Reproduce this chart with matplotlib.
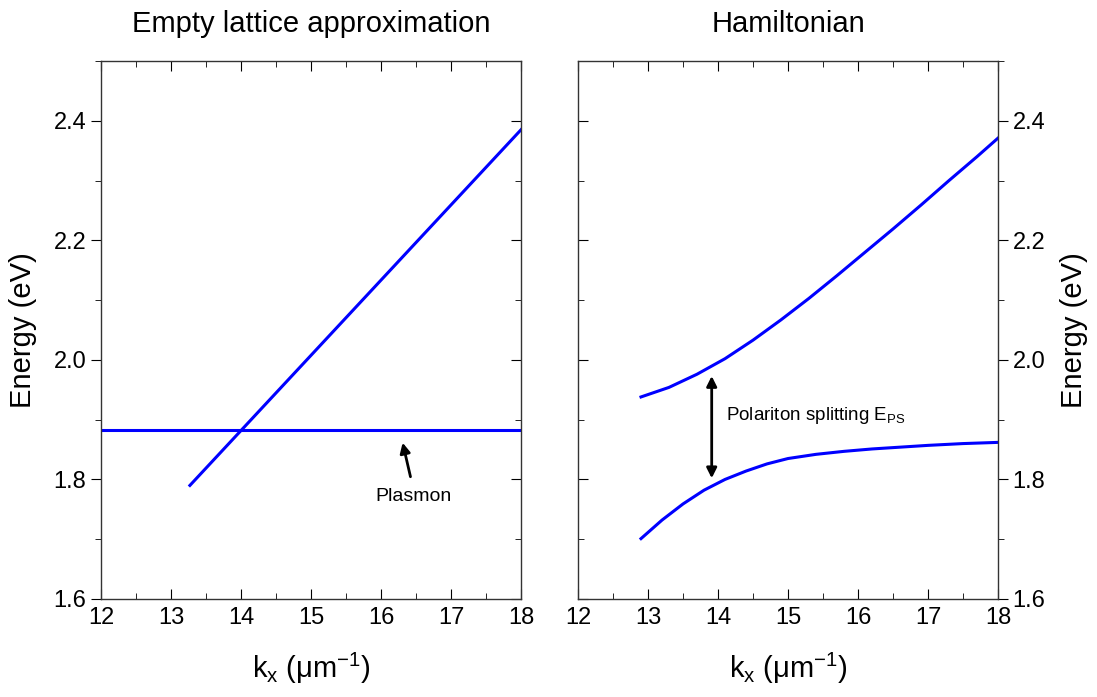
import matplotlib.pyplot as plt
from matplotlib.ticker import MultipleLocator

plt.rcParams['font.family'] = ['Liberation Sans', 'DejaVu Sans']
plt.rcParams['mathtext.fontset'] = 'custom'
plt.rcParams['mathtext.rm'] = 'Liberation Sans'
plt.rcParams['mathtext.it'] = 'Liberation Sans:italic'

# Empty lattice approximation (left panel)
photon_k = [13.27, 18.0]
photon_E = [1.790, 2.385]
plasmon_k = [12.0, 18.0]
plasmon_E = [1.882, 1.882]

# Hamiltonian (right panel)
upper_k = [12.9, 13.3, 13.7, 14.1, 14.5, 14.9, 15.3, 15.7, 16.1, 16.5,
           16.9, 17.3, 17.7, 18.0]
upper_E = [1.938, 1.954, 1.976, 2.002, 2.033, 2.067, 2.103, 2.141, 2.180,
           2.219, 2.259, 2.300, 2.340, 2.371]
lower_k = [12.9, 13.2, 13.5, 13.8, 14.1, 14.4, 14.7, 15.0, 15.4, 15.8,
           16.2, 16.6, 17.0, 17.5, 18.0]
lower_E = [1.701, 1.732, 1.759, 1.782, 1.800, 1.814, 1.826, 1.835, 1.842,
           1.847, 1.851, 1.854, 1.857, 1.860, 1.862]

blue = '#0000ff'
fig = plt.figure(figsize=(10.97, 6.97), dpi=100)
ax1 = fig.add_axes([101 / 1097, 98 / 697, 420 / 1097, 538 / 697])
ax2 = fig.add_axes([578 / 1097, 98 / 697, 420 / 1097, 538 / 697])

ax1.plot(photon_k, photon_E, color=blue, lw=2.2)
ax1.plot(plasmon_k, plasmon_E, color=blue, lw=2.2)
ax2.plot(upper_k, upper_E, color=blue, lw=2.2)
ax2.plot(lower_k, lower_E, color=blue, lw=2.2)

for ax in (ax1, ax2):
    ax.set_xlim(12, 18)
    ax.set_ylim(1.6, 2.5)
    ax.xaxis.set_major_locator(MultipleLocator(1))
    ax.xaxis.set_minor_locator(MultipleLocator(0.5))
    ax.yaxis.set_major_locator(MultipleLocator(0.2))
    ax.yaxis.set_minor_locator(MultipleLocator(0.1))
    ax.yaxis.set_major_formatter(plt.FormatStrFormatter('%.1f'))
    ax.tick_params(axis='x', which='both', direction='in', top=True, bottom=True,
                   labelsize=17, pad=6)
    ax.tick_params(axis='x', which='major', length=7)
    ax.tick_params(axis='x', which='minor', length=4)
    for s in ax.spines.values():
        s.set_color('#333333')
        s.set_linewidth(1.0)
    ax.set_xlabel(r'k$_\mathregular{x}$ ($\mathregular{\mu}$m$^\mathregular{-1}$)', fontsize=21)
    ax.xaxis.set_label_coords(0.5, -0.097)

# left panel: outward ticks on the left, inward on the right
ax1.tick_params(axis='y', which='both', direction='out', left=True, right=False, labelsize=17)
ax1.tick_params(axis='y', which='major', length=7)
ax1.tick_params(axis='y', which='minor', length=4)
sec1 = ax1.secondary_yaxis('right')
sec1.yaxis.set_major_locator(MultipleLocator(0.2))
sec1.yaxis.set_minor_locator(MultipleLocator(0.1))
sec1.tick_params(which='both', direction='in', labelright=False)
sec1.tick_params(which='major', length=7)
sec1.tick_params(which='minor', length=4)
sec1.spines['right'].set_visible(False)

# right panel: labels on the right, outward; inward ticks on the left
ax2.yaxis.tick_right()
ax2.yaxis.set_label_position('right')
ax2.tick_params(axis='y', which='both', direction='out', right=True, left=False, labelsize=17)
ax2.tick_params(axis='y', which='major', length=7)
ax2.tick_params(axis='y', which='minor', length=4)
sec2 = ax2.secondary_yaxis('left')
sec2.yaxis.set_major_locator(MultipleLocator(0.2))
sec2.yaxis.set_minor_locator(MultipleLocator(0.1))
sec2.tick_params(which='both', direction='in', labelleft=False)
sec2.tick_params(which='major', length=7)
sec2.tick_params(which='minor', length=4)
sec2.spines['left'].set_visible(False)

ax1.set_ylabel('Energy (eV)', fontsize=21)
ax2.set_ylabel('Energy (eV)', fontsize=21, rotation=90)
ax1.yaxis.set_label_coords(-0.153, 0.5)
ax2.yaxis.set_label_coords(1.148, 0.5)

ax1.set_title('Empty lattice approximation', fontsize=21, pad=21)
ax2.set_title('Hamiltonian', fontsize=21, pad=21)

ax1.annotate('', xy=(16.30, 1.866), xytext=(16.43, 1.800),
             arrowprops=dict(arrowstyle='-|>', color='black', lw=2, mutation_scale=15))
ax1.text(16.47, 1.771, 'Plasmon', fontsize=14, ha='center', va='center')

ax2.annotate('', xy=(13.91, 1.973), xytext=(13.91, 1.802),
             arrowprops=dict(arrowstyle='<|-|>', color='black', lw=2, mutation_scale=15,
                             shrinkA=0, shrinkB=0))
ax2.text(14.12, 1.907, r'Polariton splitting E$_\mathregular{PS}$', fontsize=13.5,
         ha='left', va='center')

fig.savefig('out.png', dpi=100)
